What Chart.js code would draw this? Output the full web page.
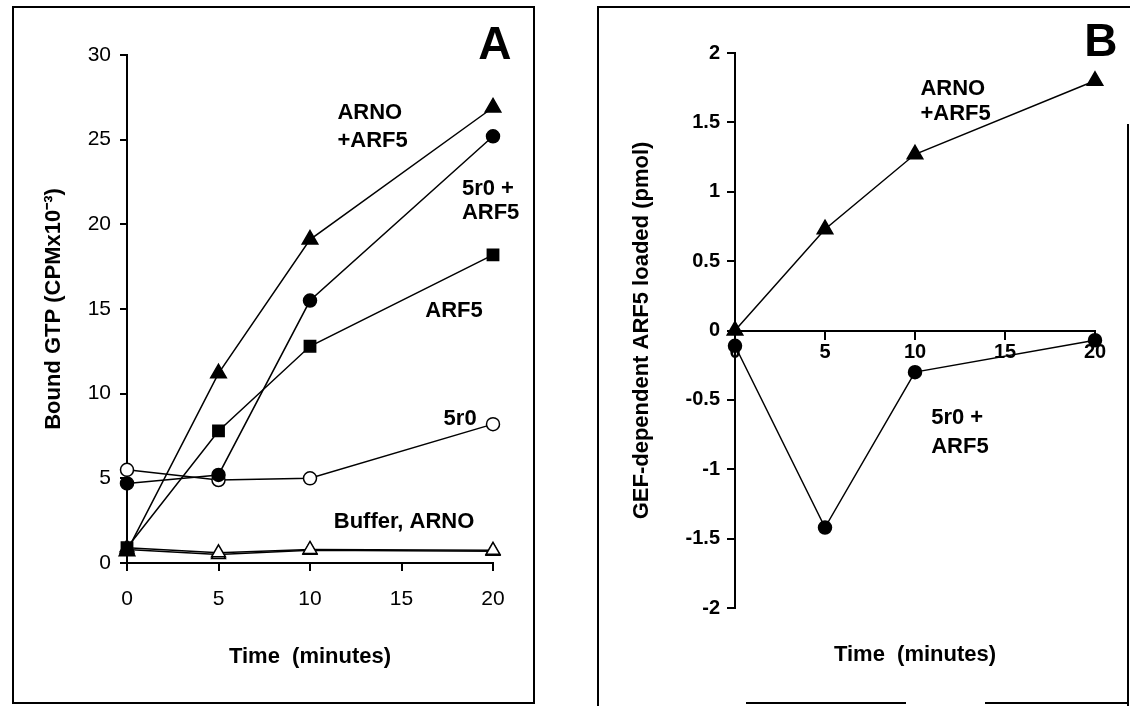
<!DOCTYPE html>
<html>
<head>
<meta charset="utf-8">
<script src="https://cdn.jsdelivr.net/npm/chart.js@4/dist/chart.umd.min.js"></script>
<style>
  html, body { margin: 0; padding: 0; background: #fff; }
  #stage { position: relative; width: 1130px; height: 706px; overflow: hidden; background: #fff; }
  #stage canvas { position: absolute; left: 0; top: 0; }
  .rule { position: absolute; background: #000; }
</style>
</head>
<body>
<div id="stage">
  <canvas id="chartA" width="1130" height="706"></canvas>
  <canvas id="chartB" width="1130" height="706"></canvas>
  <!-- panel frames -->
  <div class="rule" style="left:12px;top:6px;width:522px;height:2px;"></div>
  <div class="rule" style="left:12px;top:6px;width:2px;height:698px;"></div>
  <div class="rule" style="left:533px;top:6px;width:2px;height:698px;"></div>
  <div class="rule" style="left:12px;top:702px;width:523px;height:2px;"></div>
  <div class="rule" style="left:597px;top:6px;width:533px;height:2px;"></div>
  <div class="rule" style="left:597px;top:6px;width:2px;height:700px;"></div>
  <div class="rule" style="left:1127px;top:124px;width:2px;height:582px;"></div>
  <div class="rule" style="left:746px;top:702px;width:160px;height:2px;"></div>
  <div class="rule" style="left:985px;top:702px;width:143px;height:2px;"></div>
</div>
<script>
// Sampling times (minutes)
const times = [0, 5, 10, 20];

// Panel A: bound GTP (CPM x 10^-3)
const arnoArf5A = [0.7, 11.2, 19.1, 26.9];
const r0Arf5A   = [4.7, 5.2, 15.5, 25.2];
const arf5A     = [0.9, 7.8, 12.8, 18.2];
const r0A       = [5.5, 4.9, 5.0, 8.2];
const bufferA   = [0.9, 0.6, 0.8, 0.75];
const arnoA     = [0.8, 0.5, 0.75, 0.7];

// Panel B: GEF-dependent ARF5 loaded (pmol)
const arnoArf5B = [0, 0.73, 1.27, 1.80];
const r0Arf5B   = [-0.11, -1.42, -0.30, -0.07];

// Axis ticks
const xTicks  = [0, 5, 10, 15, 20];
const yTicksA = [0, 5, 10, 15, 20, 25, 30];
const yTicksB = [-2, -1.5, -1, -0.5, 0, 0.5, 1, 1.5, 2];

const FONT = "'Liberation Sans', Arial, Helvetica, sans-serif";
const BOLD_TEXT = `bold 22px ${FONT}`;

function pairs(values) {
  return times.map((t, i) => ({ x: t, y: values[i] }));
}

function series(label, values, style, filled, radius) {
  return {
    label,
    data: pairs(values),
    borderColor: '#000',
    borderWidth: 1.5,
    pointStyle: style,
    pointRadius: radius,
    pointBorderWidth: 1.5,
    pointBorderColor: '#000',
    pointBackgroundColor: filled ? '#000' : '#fff',
    tension: 0,
    fill: false,
    clip: false
  };
}

// Draws in-plot text labels at data coordinates
const panelText = {
  id: 'panelText',
  afterDraw(chart, args, opts) {
    const { ctx, scales } = chart;
    const xs = scales.x, ys = scales.y;
    ctx.save();
    ctx.fillStyle = '#000';
    ctx.textBaseline = 'middle';
    ctx.textAlign = 'left';
    (opts.items || []).forEach(item => {
      ctx.font = item.font || BOLD_TEXT;
      ctx.fillText(item.text, xs.getPixelForValue(item.x), ys.getPixelForValue(item.y));
    });
    ctx.restore();
  }
};

const axisLine = { display: true, color: '#000', width: 2 };
const tickMarks = (len) => ({
  display: true, drawOnChartArea: false, drawTicks: true,
  tickLength: len, color: '#000', lineWidth: 2
});

// ---------- Panel A ----------
new Chart(document.getElementById('chartA'), {
  type: 'line',
  data: {
    datasets: [
      series('ARNO + ARF5', arnoArf5A, 'triangle', true, 9),
      series('5r0 + ARF5', r0Arf5A, 'circle', true, 6.5),
      series('ARF5', arf5A, 'rect', true, 8),
      series('5r0', r0A, 'circle', false, 6.5),
      series('Buffer', bufferA, 'triangle', false, 8),
      series('ARNO', arnoA, 'triangle', false, 8)
    ]
  },
  options: {
    responsive: false,
    animation: false,
    events: [],
    layout: { padding: { left: 20, right: 637, top: 55, bottom: 20 } },
    scales: {
      x: {
        type: 'linear', min: 0, max: 20,
        afterFit(s) { s.height = 123; },
        afterBuildTicks(s) { s.ticks = xTicks.map(v => ({ value: v })); },
        border: axisLine,
        grid: tickMarks(8),
        ticks: { color: '#000', padding: 16, font: { family: FONT, size: 21 }, maxRotation: 0 },
        title: {
          display: true, text: 'Time  (minutes)', color: '#000',
          font: { family: FONT, size: 22, weight: 'bold' },
          padding: { top: 0, bottom: 16 }
        }
      },
      y: {
        type: 'linear', min: 0, max: 30,
        afterFit(s) { s.width = 107; },
        afterBuildTicks(s) { s.ticks = yTicksA.map(v => ({ value: v })); },
        border: axisLine,
        grid: tickMarks(7),
        ticks: { color: '#000', padding: 9, font: { family: FONT, size: 21 } },
        title: {
          display: true, text: 'Bound GTP (CPMx10\u207B\u00B3)', color: '#000',
          font: { family: FONT, size: 22, weight: 'bold' },
          padding: { top: 21, bottom: 0 }
        }
      }
    },
    plugins: {
      legend: { display: false },
      tooltip: { enabled: false },
      panelText: {
        items: [
          { text: 'A', x: 19.2, y: 30.5, font: `bold 46px ${FONT}` },
          { text: 'ARNO', x: 11.5, y: 26.6 },
          { text: '+ARF5', x: 11.5, y: 24.9 },
          { text: '5r0 +', x: 18.3, y: 22.1 },
          { text: 'ARF5', x: 18.3, y: 20.7 },
          { text: 'ARF5', x: 16.3, y: 14.9 },
          { text: '5r0', x: 17.3, y: 8.5 },
          { text: 'Buffer, ARNO', x: 11.3, y: 2.4 }
        ]
      }
    }
  },
  plugins: [panelText]
});

// ---------- Panel B ----------
new Chart(document.getElementById('chartB'), {
  type: 'line',
  data: {
    datasets: [
      series('ARNO + ARF5', arnoArf5B, 'triangle', true, 9),
      series('5r0 + ARF5', r0Arf5B, 'circle', true, 6.5)
    ]
  },
  options: {
    responsive: false,
    animation: false,
    events: [],
    layout: { padding: { left: 605, right: 35, top: 53, bottom: 20 } },
    scales: {
      x: {
        type: 'linear', min: 0, max: 20,
        position: { y: 0 },
        afterBuildTicks(s) { s.ticks = xTicks.map(v => ({ value: v })); },
        border: axisLine,
        grid: tickMarks(8),
        ticks: { color: '#000', padding: 2, font: { family: FONT, size: 20, weight: 'bold' }, maxRotation: 0 }
      },
      xTitle: {
        axis: 'x', type: 'linear', min: 0, max: 20, position: 'bottom',
        afterFit(s) { s.height = 78; },
        border: { display: false },
        grid: { display: false },
        ticks: { display: false },
        title: {
          display: true, text: 'Time  (minutes)', color: '#000',
          font: { family: FONT, size: 22, weight: 'bold' },
          padding: { top: 0, bottom: 18 }
        }
      },
      y: {
        type: 'linear', min: -2, max: 2,
        afterFit(s) { s.width = 130; },
        afterBuildTicks(s) { s.ticks = yTicksB.map(v => ({ value: v })); },
        border: axisLine,
        grid: tickMarks(8),
        ticks: {
          color: '#000', padding: 7, font: { family: FONT, size: 20, weight: 'bold' },
          callback: v => String(v)
        },
        title: {
          display: true, text: 'GEF-dependent ARF5 loaded (pmol)', color: '#000',
          font: { family: FONT, size: 22, weight: 'bold' },
          padding: { top: 24, bottom: 0 }
        }
      }
    },
    plugins: {
      legend: { display: false },
      tooltip: { enabled: false },
      panelText: {
        items: [
          { text: 'B', x: 19.4, y: 2.07, font: `bold 46px ${FONT}` },
          { text: 'ARNO', x: 10.3, y: 1.74 },
          { text: '+ARF5', x: 10.3, y: 1.56 },
          { text: '5r0 +', x: 10.9, y: -0.63 },
          { text: 'ARF5', x: 10.9, y: -0.84 }
        ]
      }
    }
  },
  plugins: [panelText]
});
</script>
</body>
</html>
